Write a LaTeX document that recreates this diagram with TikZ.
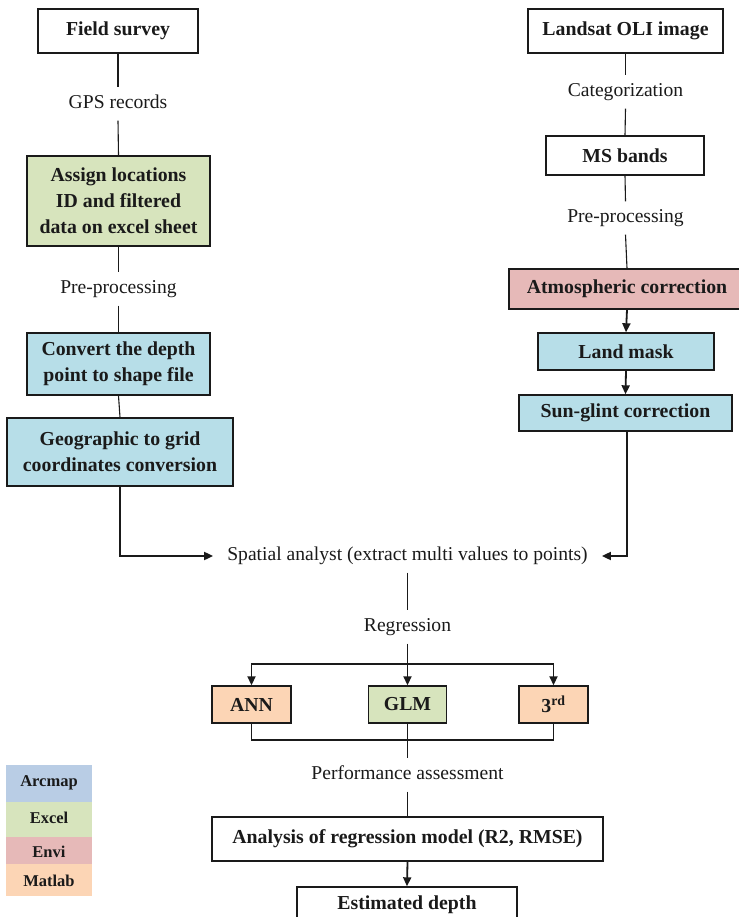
\documentclass[tikz,border=0pt]{standalone}
\usepackage{fontspec}
\setmainfont{Liberation Serif}
\usetikzlibrary{arrows.meta}

\definecolor{excelgreen}{HTML}{D7E4BD}
\definecolor{arcblue}{HTML}{B7DEE8}
\definecolor{legblue}{HTML}{B9CDE5}
\definecolor{envired}{HTML}{E6B9B8}
\definecolor{matorange}{HTML}{FCD5B5}
\definecolor{ink}{HTML}{1A1A1A}

\begin{document}
\begin{tikzpicture}[x=1pt,y=-1pt,
  box/.style={draw=ink,line width=1.4pt,inner sep=0pt,align=center,
    font=\fontsize{19.8}{26}\selectfont\bfseries,text=ink},
  lbl/.style={inner xsep=2pt,inner ysep=8pt,text height=13pt,text depth=4pt,
    font=\fontsize{19.6}{22}\selectfont,text=ink},
  link/.style={draw=ink,line width=1.1pt},
  arr/.style={draw=ink,line width=1.8pt,-{Triangle[length=9pt,width=8pt]}},
  legend/.style={inner sep=0pt,font=\fontsize{16.5}{18}\selectfont\bfseries,text=ink}]
\useasboundingbox (0,0) rectangle (738,917);

% left branch: field data
\node[box,minimum width=160,minimum height=44] (fs) at (118,31) {Field survey};
\node[lbl] (gps) at (118,104) {GPS records};
\node[box,fill=excelgreen,minimum width=183,minimum height=90] (asg) at (118.5,201)
  {Assign locations\\ID and filtered\\data on excel sheet};
\node[lbl] (pp1) at (118.5,289) {Pre-processing};
\node[box,fill=arcblue,minimum width=183,minimum height=62] (conv) at (118.5,364)
  {Convert the depth\\point to shape file};
\node[box,fill=arcblue,minimum width=226,minimum height=68] (geo) at (120,452)
  {Geographic to grid\\coordinates conversion};

% right branch: satellite image
\node[box,minimum width=195,minimum height=44] (ls) at (625.5,31) {Landsat OLI image};
\node[lbl] (cat) at (625.5,92) {Categorization};
\node[box,minimum width=158,minimum height=39] (ms) at (625,155.5) {MS bands};
\node[lbl] (pp2) at (625.5,218) {Pre-processing};
\node[box,fill=envired,minimum width=236,minimum height=40] (atm) at (627,289)
  {Atmospheric correction};
\node[box,fill=arcblue,minimum width=176,minimum height=37] (lm) at (626,351.5) {Land mask};
\node[box,fill=arcblue,minimum width=213,minimum height=36] (sg) at (625.5,413) {Sun-glint correction};

% merge and regression
\node[lbl,inner xsep=14pt] (spa) at (407.5,556)
  {Spatial analyst (extract multi values to points)};
\node[lbl] (reg) at (407.5,627) {Regression};
\coordinate (split) at (407.5,664);
\node[box,fill=matorange,minimum width=79,minimum height=37] (ann) at (251.5,704.5) {ANN};
\node[box,fill=excelgreen,minimum width=78,minimum height=37] (glm) at (407.5,704.5) {GLM};
\node[box,fill=matorange,minimum width=69,minimum height=37] (third) at (553.5,704.5)
  {3\textsuperscript{rd}};
\coordinate (join) at (407.5,740);
\node[lbl] (perf) at (407.5,775) {Performance assessment};
\node[box,minimum width=391,minimum height=44] (ana) at (407.5,839)
  {Analysis of regression model (R2, RMSE)};
\node[box,minimum width=220,minimum height=36] (est) at (407,905) {Estimated depth};

% legend
\fill[legblue] (6,765) rectangle (92,802);
\fill[excelgreen] (6,802) rectangle (92,837);
\fill[envired] (6,837) rectangle (92,864);
\fill[matorange] (6,864) rectangle (92,896);
\node[legend] (lgA) at (49,783) {Arcmap};
\node[legend] (lgX) at (49,818) {Excel};
\node[legend] (lgE) at (49,852) {Envi};
\node[legend] (lgM) at (49,881) {Matlab};

% connectors
\draw[link] (fs.south) -- (gps.north);
\draw[link] (gps.south) -- (asg.north);
\draw[link] (asg.south) -- (pp1.north);
\draw[link] (pp1.south) -- (conv.north);
\draw[link] (conv.south) -- (geo.north);
\draw[arr] (geo.south) |- (spa.west);

\draw[link] (ls.south) -- (cat.north);
\draw[link] (cat.south) -- (ms.north);
\draw[link] (ms.south) -- (pp2.north);
\draw[link] (pp2.south) -- (atm.north);
\draw[arr] (atm.south) -- (lm.north);
\draw[arr] (lm.south) -- (sg.north);
\draw[arr] ([xshift=1.5pt]sg.south) |- (spa.east);

\draw[link] (spa.south) -- (reg.north);
\draw[arr] (reg.south) -- (glm.north);
\draw[arr] (split) -| (ann.north);
\draw[arr] (split) -| (third.north);
\draw[link] (ann.south) |- (join) -| (third.south);
\draw[link] (glm.south) -- (perf.north);
\draw[link] (perf.south) -- (ana.north);
\draw[arr] (ana.south) -- (est.north);
\end{tikzpicture}
\end{document}
